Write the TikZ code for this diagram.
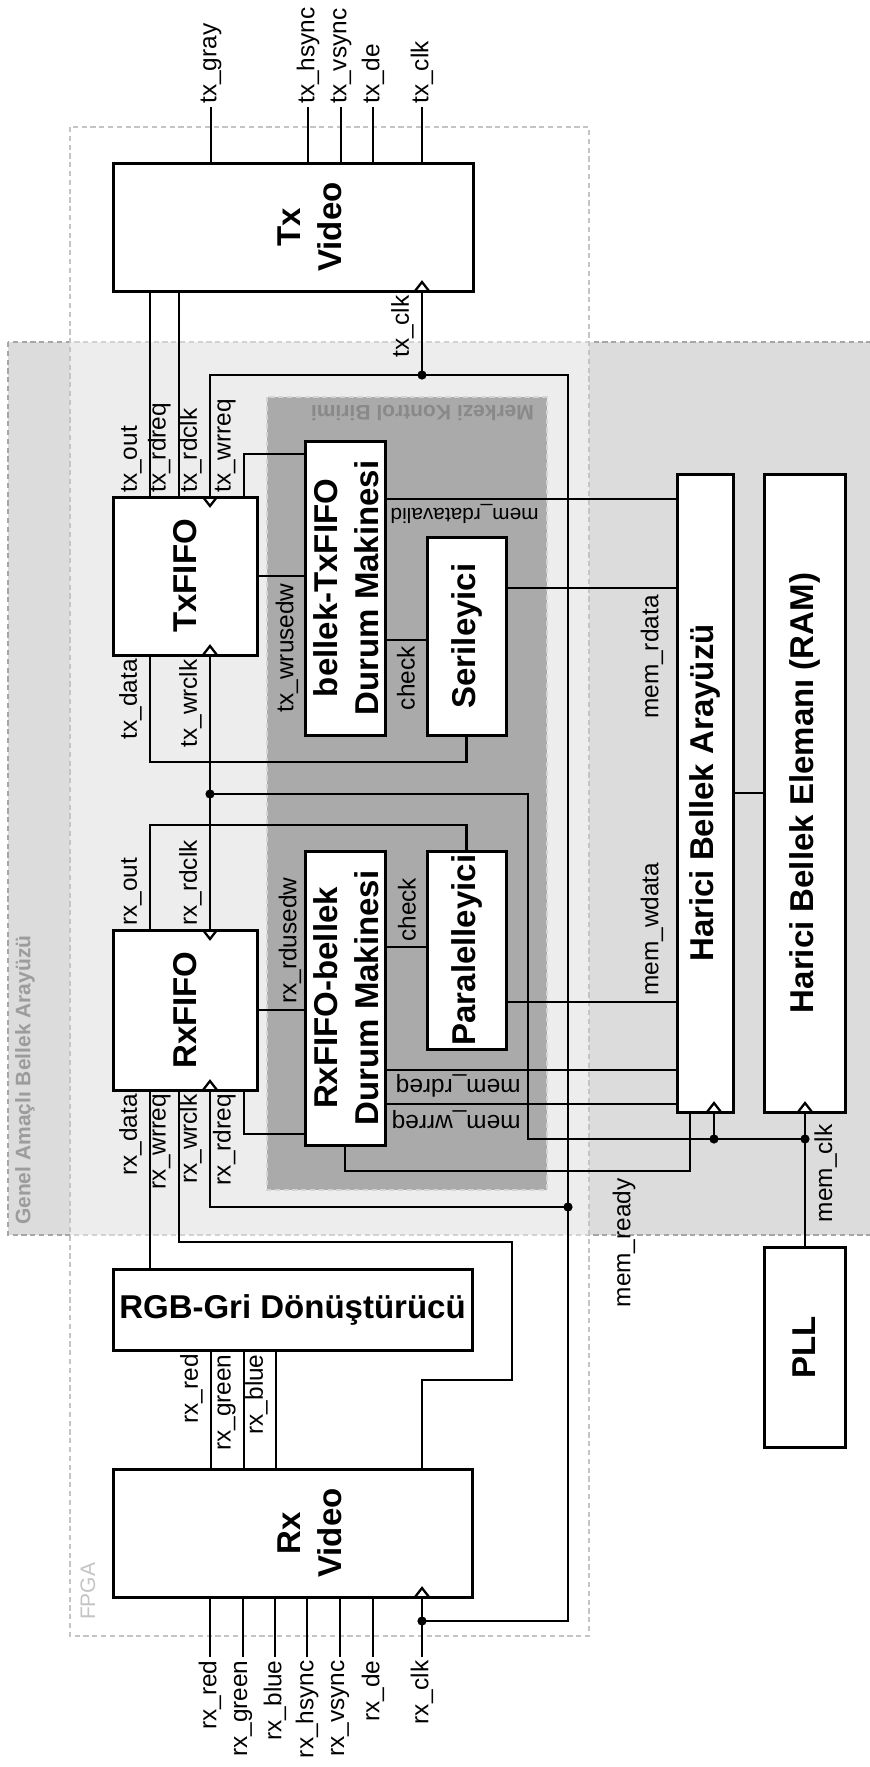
\documentclass[tikz,border=0pt]{standalone}
\usepackage{fontspec}
\setmainfont{Liberation Sans}
\usetikzlibrary{fit}
\definecolor{genelgray}{HTML}{DCDCDC}
\definecolor{genelline}{HTML}{A6A6A6}
\definecolor{geneltext}{HTML}{9C9C9C}
\definecolor{fpgaline}{HTML}{C4C4C4}
\definecolor{merkezgray}{HTML}{AAAAAA}
\definecolor{merkezline}{HTML}{D4D4D4}
\definecolor{merkeztext}{HTML}{898989}

\tikzset{
  wire/.style={line width=1.15pt},
  blk/.style={draw, line width=1.5pt, fill=white, inner sep=0pt, outer sep=0pt},
  blklbl/.style={font=\bfseries\fontsize{16.5}{20.5}\selectfont, align=center, inner sep=0pt},
  sig/.style={font=\fontsize{12.2}{14}\selectfont, inner sep=1.5pt},
  region/.style={line width=0.7pt, dash pattern=on 2.6pt off 1.8pt},
  reglbl/.style={font=\bfseries\fontsize{10.5}{12}\selectfont},
  clkup/.pic={\draw[line width=1.15pt] (-7,0) -- (0,-9) -- (7,0);},
  clkdn/.pic={\draw[line width=1.15pt] (-7,0) -- (0,9) -- (7,0);},
}

\begin{document}
\begin{tikzpicture}[x=0.5pt, y=-0.5pt]
  \useasboundingbox (0,0) rectangle (869,1767);

  % Regions
  \draw[region, draw=genelline, fill=genelgray] (8,342) rectangle (880,1235);
  \draw[region, draw=fpgaline, fill=white, fill opacity=0.5] (70,127) rectangle (589,1636);
  \draw[region, draw=merkezline, fill=merkezgray] (267,397) rectangle (547,1190);
  \node[reglbl, text=geneltext, rotate=90, anchor=west] (genellbl) at (25,1232) {Genel Amaçlı Bellek Arayüzü};
  \node[font=\fontsize{10.5}{12}\selectfont, text=fpgaline, rotate=90, anchor=west] (fpgalbl) at (88,1627) {FPGA};
  \node[reglbl, text=merkeztext, rotate=180, anchor=west] (merkezlbl) at (541,413) {Merkezi Kontrol Birimi};

  % Blocks
  \node[blk, fit={(113,163) (473,291)}] (txvid) {};
  \node[blk, fit={(113,497) (257,655)}] (txfifo) {};
  \node[blk, fit={(113,930) (257,1090)}] (rxfifo) {};
  \node[blk, fit={(113,1269) (472,1350)}] (rgb) {};
  \node[blk, fit={(113,1469) (472,1597)}] (rxvid) {};
  \node[blk, fit={(305,441) (385,735)}] (txsm) {};
  \node[blk, fit={(427,537) (506,735)}] (ser) {};
  \node[blk, fit={(305,851) (385,1145)}] (rxsm) {};
  \node[blk, fit={(427,851) (506,1049)}] (par) {};
  \node[blk, fit={(677,474) (733,1112)}] (memif) {};
  \node[blk, fit={(764,474) (845,1112)}] (ram) {};
  \node[blk, fit={(764,1247) (845,1447)}] (pll) {};

  \node[blklbl, rotate=90] (txvidt) at (310,227) {Tx\\Video};
  \node[blklbl, rotate=90] (rxvidt) at (310,1533) {Rx\\Video};
  \node[blklbl, rotate=90] (txfifot) at (txfifo) {TxFIFO};
  \node[blklbl, rotate=90] (rxfifot) at (rxfifo) {RxFIFO};
  \node[blklbl] (rgbt) at (rgb) {RGB-Gri Dönüştürücü};
  \node[blklbl, rotate=90] (txsmt) at (346,588) {bellek-TxFIFO\\Durum Makinesi};
  \node[blklbl, rotate=90] (rxsmt) at (346,998) {RxFIFO-bellek\\Durum Makinesi};
  \node[blklbl, rotate=90] (sert) at (ser) {Serileyici};
  \node[blklbl, rotate=90] (part) at (par) {Paralelleyici};
  \node[blklbl, rotate=90] (memift) at (memif) {Harici Bellek Arayüzü};
  \node[blklbl, rotate=90] (ramt) at (ram) {Harici Bellek Elemanı (RAM)};
  \node[blklbl, rotate=90] (pllt) at (pll) {PLL};

  % Video pins
  \foreach \x/\nm in {211/tx\_gray, 308/tx\_hsync, 341/tx\_vsync, 373/tx\_de, 422/tx\_clk} {
    \node[sig, rotate=90, anchor=west] (to\x) at (\x,107) {\nm};
    \draw[wire] (txvid.north -| to\x.west) -- (to\x.west);
  }
  \foreach \x/\nm in {210/rx\_red, 243/rx\_green, 275/rx\_blue, 307/rx\_hsync, 340/rx\_vsync, 373/rx\_de} {
    \node[sig, rotate=90, anchor=east] (ri\x) at (\x,1657) {\nm};
    \draw[wire] (rxvid.south -| ri\x.east) -- (ri\x.east);
  }
  \node[sig, rotate=90, anchor=east] (riclk) at (422,1657) {rx\_clk};

  % Pin labels beside wires
  \foreach \x/\nm in {150/tx\_out, 179/tx\_rdreq, 210/tx\_rdclk, 244/tx\_wrreq}
    \node[sig, rotate=90, anchor=south west] at (\x-5,496) {\nm};
  \foreach \x/\nm in {150/tx\_data, 210/tx\_wrclk}
    \node[sig, rotate=90, anchor=south east] at (\x-5,656) {\nm};
  \foreach \x/\nm in {150/rx\_out, 210/rx\_rdclk}
    \node[sig, rotate=90, anchor=south west] at (\x-5,929) {\nm};
  \foreach \x/\nm in {150/rx\_data, 179/rx\_wrreq, 210/rx\_wrclk, 244/rx\_rdreq}
    \node[sig, rotate=90, anchor=south east] at (\x-5,1091) {\nm};
  \foreach \x/\nm in {211/rx\_red, 244/rx\_green, 276/rx\_blue}
    \node[sig, rotate=90, anchor=south east] at (\x-5,1351) {\nm};
  \node[sig, rotate=90, anchor=south east] (ltxclk) at (417,292) {tx\_clk};

  % Data and control wires
  \draw[wire] (txvid.south -| 150,0) -- (txfifo.north -| 150,0);
  \draw[wire] (txvid.south -| 179,0) -- (txfifo.north -| 179,0);
  \draw[wire] (txfifo.north -| 244,0) |- (txsm.west |- 0,454);
  \draw[wire] (txfifo.east) -- (txsm.west |- txfifo.east);
  \draw[wire] (txfifo.south -| 150,0) -- (150,762) -| (ser.south);
  \draw[wire] (txsm.east |- 0,499) -- (memif.west |- 0,499);
  \draw[wire] (txsm.east |- 0,640) -- (ser.west |- 0,640);
  \draw[wire] (ser.east |- 0,588) -- (memif.west |- 0,588);
  \draw[wire] (rxfifo.north -| 150,0) -- (150,825) -| (par.north);
  \draw[wire] (rxfifo.east) -- (rxsm.west |- rxfifo.east);
  \draw[wire] (rxsm.east |- 0,947) -- (par.west |- 0,947);
  \draw[wire] (par.east |- 0,1002) -- (memif.west |- 0,1002);
  \draw[wire] (rxsm.east |- 0,1070) -- (memif.west |- 0,1070);
  \draw[wire] (rxsm.east |- 0,1104) -- (memif.west |- 0,1104);
  \draw[wire] (memif.south -| 690,0) -- (690,1171) -| (rxsm.south);
  \draw[wire] (rxfifo.south -| 244,0) |- (rxsm.west |- 0,1134);
  \draw[wire] (rxfifo.south -| 179,0) |- (512,1242) -- (512,1380) -| (rxvid.north -| 422,0);
  \draw[wire] (rxfifo.south -| 150,0) -- (rgb.north -| 150,0);
  \foreach \x in {211,244,276}
    \draw[wire] (rgb.south -| \x,0) -- (rxvid.north -| \x,0);
  \draw[wire] (memif.east) -- (ram.west);

  % Video clock
  \coordinate (txclkj) at (422,375);
  \coordinate (rxwrj) at (568,1207);
  \coordinate (rxclkj) at (422,1621);
  \draw[wire] (txvid.south -| txclkj) -- (txclkj) -| (txfifo.north -| 210,0);
  \draw[wire] (txclkj) -| (rxwrj) |- (rxclkj);
  \draw[wire] (rxwrj) -| (rxfifo.south -| 210,0);
  \draw[wire] (rxvid.south -| rxclkj) -- (riclk.east);

  % Memory clock
  \coordinate (memclkj) at (805,1139);
  \coordinate (ifclkj) at (714,1139);
  \coordinate (rdclkj) at (210,794);
  \draw[wire] (pll.north -| memclkj) -- (ram.south -| memclkj);
  \draw[wire] (memclkj) -- (ifclkj) -- (memif.south -| ifclkj);
  \draw[wire] (ifclkj) -- (528,1139) |- (rdclkj);
  \draw[wire] (txfifo.south -| rdclkj) -- (rxfifo.north -| rdclkj);
  \node[sig, rotate=90, anchor=north east] (lmemclk) at (811,1121) {mem\_clk};

  \foreach \j in {txclkj, rxwrj, rxclkj, memclkj, ifclkj, rdclkj}
    \fill (\j) circle[radius=2.3pt];

  % Clock inputs
  \pic at (txfifo.north -| 210,0) {clkdn};
  \pic at (rxfifo.north -| 210,0) {clkdn};
  \pic at (txfifo.south -| 210,0) {clkup};
  \pic at (rxfifo.south -| 210,0) {clkup};
  \pic at (txvid.south -| 422,0) {clkup};
  \pic at (rxvid.south -| 422,0) {clkup};
  \pic at (memif.south -| 714,0) {clkup};
  \pic at (ram.south -| 805,0) {clkup};

  % Wire labels
  \node[sig, rotate=90, anchor=east] (lwrusedw) at (287,580) {tx\_wrusedw};
  \node[sig, rotate=90, anchor=east] (lchecktx) at (406,643) {check};
  \node[sig, rotate=90, anchor=west] (lrdusedw) at (290,1007) {rx\_rdusedw};
  \node[sig, rotate=90, anchor=west] (lcheckrx) at (407,945) {check};
  \node[sig, rotate=90, anchor=east] (lrdata) at (652,592) {mem\_rdata};
  \node[sig, rotate=90, anchor=west] (lwdata) at (652,999) {mem\_wdata};
  \node[sig, rotate=90, anchor=east] (lready) at (624,1175) {mem\_ready};
  \node[sig, font=\fontsize{10.4}{12}\selectfont, rotate=180, anchor=west] (lrdvalid) at (542,514) {mem\_rdatavalid};
  \node[sig, rotate=180, anchor=west] (lrdreq) at (524,1086) {mem\_rdreq};
  \node[sig, rotate=180, anchor=west] (lwrreq) at (524,1120) {mem\_wrreq};
\end{tikzpicture}
\end{document}
